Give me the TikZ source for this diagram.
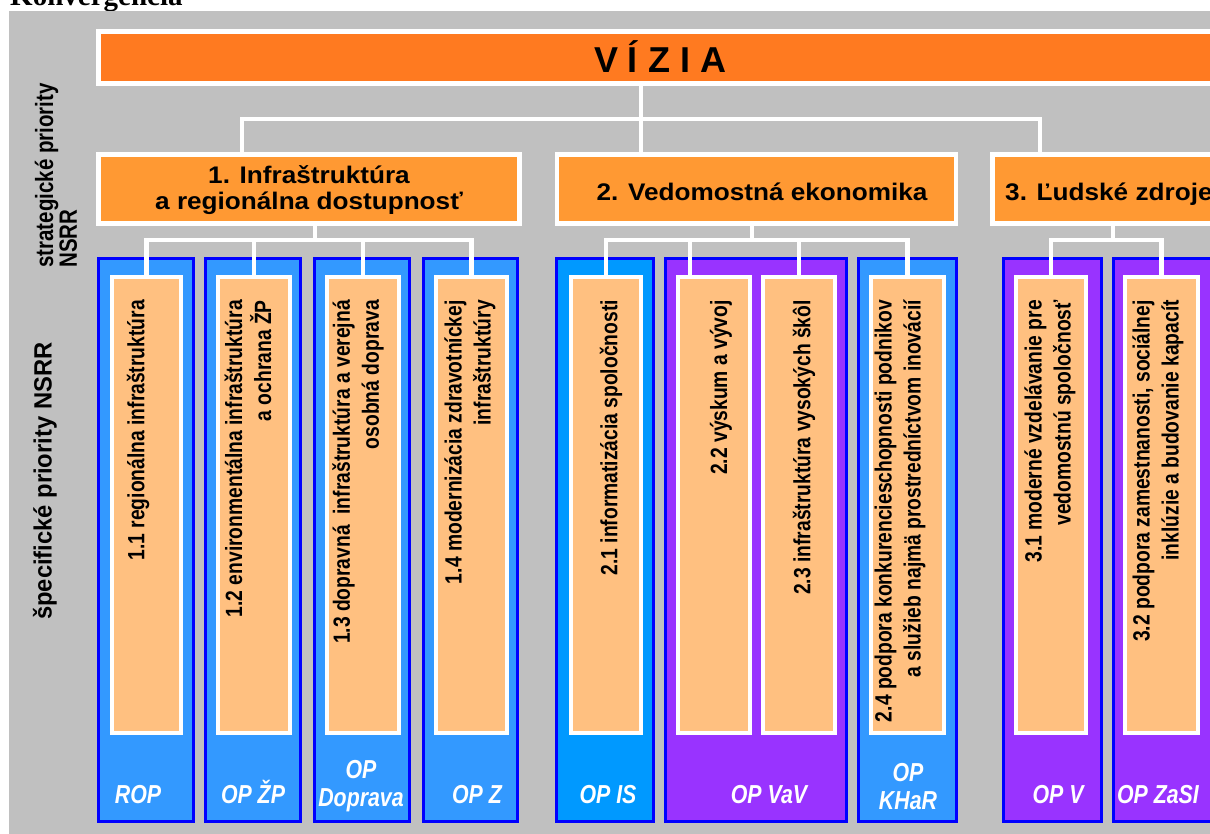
\documentclass[tikz,border=0pt]{standalone}
\usepackage{fontspec}
\setmainfont{Liberation Sans}
\newfontfamily\hdrfont[FakeStretch=1.09]{Liberation Sans}
\newfontfamily\narrowfont[FakeStretch=0.82]{Liberation Sans}
\newfontfamily\sidefont[FakeStretch=0.95]{Liberation Sans}
\newfontfamily\titlefont{Liberation Serif}
\usetikzlibrary{fit}
\definecolor{bggray}{HTML}{C0C0C0}
\definecolor{vizorange}{HTML}{FF7A20}
\definecolor{priorange}{HTML}{FF9933}
\definecolor{peach}{HTML}{FFC080}
\definecolor{colblue}{HTML}{3399FF}
\definecolor{colcyan}{HTML}{0099FF}
\definecolor{colpurple}{HTML}{9933FF}
\definecolor{edgeblue}{HTML}{0000FF}
\tikzset{
  boxbase/.style={rectangle, inner sep=0pt, outer sep=0pt},
  vizbox/.style={boxbase, fill=vizorange, draw=white, line width=5pt},
  pribox/.style={boxbase, fill=priorange, draw=white, line width=4.5pt},
  pritext/.style={inner sep=0pt, align=center, font=\hdrfont\bfseries\fontsize{24}{26.5}\selectfont},
  column/.style={boxbase, draw=edgeblue, line width=3pt},
  specbox/.style={boxbase, fill=peach, draw=white, line width=4pt},
  spectext/.style={rotate=90, anchor=east, inner sep=0pt, align=right, font=\narrowfont\bfseries\fontsize{23.5}{29}\selectfont},
  optext/.style={text=white, inner sep=0pt, align=center, font=\narrowfont\bfseries\itshape\fontsize{26}{28}\selectfont},
  sidetext/.style={rotate=90, anchor=west, inner sep=0pt, align=left, font=\sidefont\bfseries\fontsize{25}{22}\selectfont},
  conn/.style={draw=white, line width=4.5pt},
}
\begin{document}
\begin{tikzpicture}[x=1pt,y=-1pt]
\useasboundingbox (0,0) rectangle (1210,834);
\clip (0,0) rectangle (1210,834);
% title (cut off at top)
\node[anchor=base west, inner sep=0pt, font=\titlefont\bfseries\fontsize{29}{30}\selectfont] (title) at (10,6) {Konvergencia};
% background
\fill[bggray] (9,11) rectangle (1240,850);
% side labels
\node[sidetext, font=\narrowfont\bfseries\fontsize{25}{22}\selectfont] (sidea) at (56,268) {strategické priority\\NSRR};
\node[sidetext] (sideb) at (45,620) {špecifické priority NSRR};
% columns
\node[column, fill=colblue,   fit={(98.5,258.5)(193.5,821.5)}] (c1) {};
\node[column, fill=colblue,   fit={(205.5,258.5)(300.5,821.5)}] (c2) {};
\node[column, fill=colblue,   fit={(314.5,258.5)(409.5,821.5)}] (c3) {};
\node[column, fill=colblue,   fit={(423.5,258.5)(517.5,821.5)}] (c4) {};
\node[column, fill=colcyan,   fit={(556.5,258.5)(653.5,821.5)}] (c5) {};
\node[column, fill=colpurple, fit={(665.5,258.5)(846.5,821.5)}] (c6) {};
\node[column, fill=colblue,   fit={(858.5,258.5)(956.5,821.5)}] (c7) {};
\node[column, fill=colpurple, fit={(1003.5,258.5)(1101.5,821.5)}] (c8) {};
\node[column, fill=colpurple, fit={(1113.5,258.5)(1240,821.5)}] (c9) {};
% specific priority boxes
\node[specbox, fit={(112,277)(181,733)}] (s11) {};
\node[specbox, fit={(218,277)(290,733)}] (s12) {};
\node[specbox, fit={(327,277)(399,733)}] (s13) {};
\node[specbox, fit={(436,277)(507,733)}] (s14) {};
\node[specbox, fit={(571,277)(641,733)}] (s21) {};
\node[specbox, fit={(678,277)(750,733)}] (s22) {};
\node[specbox, fit={(763,277)(835,733)}] (s23) {};
\node[specbox, fit={(871,277)(944,733)}] (s24) {};
\node[specbox, fit={(1016,277)(1086,733)}] (s31) {};
\node[specbox, fit={(1125,277)(1198,733)}] (s32) {};
% texts in specific boxes
\node[spectext] (t11) at (138,300) {1.1 regionálna infraštruktúra};
\node[spectext] (t12) at (248,300) {1.2 environmentálna infraštruktúra\\a ochrana ŽP};
\node[spectext] (t13) at (358,300) {1.3 dopravná\ \ infraštruktúra a verejná\\osobná doprava};
\node[spectext] (t14) at (470,300) {1.4 modernizácia zdravotníckej\\infraštruktúry};
\node[spectext] (t21) at (611,300) {2.1 informatizácia spoločnosti};
\node[spectext] (t22) at (721,300) {2.2 výskum a vývoj};
\node[spectext] (t23) at (804,300) {2.3 infraštruktúra vysokých škôl};
\node[spectext] (t24) at (900,300) {2.4 podpora konkurencieschopnosti podnikov\\a služieb najmä prostredníctvom inovácií};
\node[spectext] (t31) at (1050,300) {3.1 moderné vzdelávanie pre\\vedomostnú spoločnosť};
\node[spectext] (t32) at (1158,300) {3.2 podpora zamestnanosti, sociálnej\\inklúzie a budovanie kapacít};
% operational programme labels
\node[optext, anchor=base] (l1) at (138,803) {ROP};
\node[optext, anchor=base] (l2) at (253,803) {OP ŽP};
\node[optext] (l3) at (361,786) {OP\\Doprava};
\node[optext, anchor=base] (l4) at (477,803) {OP Z};
\node[optext, anchor=base] (l5) at (608,803) {OP IS};
\node[optext, anchor=base] (l6) at (769,803) {OP VaV};
\node[optext] (l7) at (908,787) {OP\\KHaR};
\node[optext, anchor=base] (l8) at (1058,803) {OP V};
\node[optext, anchor=base] (l9) at (1158,803) {OP ZaSI};
% vision
\node[vizbox, fit={(98.5,31.5)(1240,83.5)}] (vizia) {};
\node[anchor=base, inner sep=0pt, font=\bfseries\fontsize{36}{40}\selectfont] (viztext) at (660,73) {V Í Z I A};
% strategic priorities
\node[pribox, fit={(98.5,154.5)(519.5,223.5)}] (p1) {};
\node[pribox, fit={(557,154.5)(956,223.5)}] (p2) {};
\node[pribox, fit={(992.5,154.5)(1240,223.5)}] (p3) {};
\node[pritext] (p1text) at (309,190) {1. Infraštruktúra\\a regionálna dostupnosť};
\node[pritext, anchor=base] (p2text) at (762,201) {2. Vedomostná ekonomika};
\node[pritext, anchor=base west] (p3text) at (1005,201) {3. Ľudské zdroje};
% connectors level 1
\coordinate (b1) at (242,119);
\coordinate (b2) at (641,119);
\coordinate (b3) at (1040,119);
\draw[conn] (b1 |- p1.north) -- (b1) -- (b3) -- (b3 |- p3.north);
\draw[conn] (b2 |- vizia.south) -- (b2 |- p2.north);
% connectors level 2
\coordinate (h1) at (315,240);
\coordinate (h2) at (752,240);
\coordinate (h3) at (1113,240);
\coordinate (d22) at (690,240);
\draw[conn] (h1 |- p1.south) -- (h1);
\draw[conn] (s11.north) |- (h1) -| (s14.north);
\draw[conn] (s12.north) -- (s12.north |- h1);
\draw[conn] (s13.north) -- (s13.north |- h1);
\draw[conn] (h2 |- p2.south) -- (h2);
\draw[conn] (s21.north) |- (h2) -| (s24.north);
\draw[conn] (d22) -- (d22 |- s22.north);
\draw[conn] (s23.north) -- (s23.north |- h2);
\draw[conn] (h3 |- p3.south) -- (h3);
\draw[conn] (s31.north) |- (h3) -| (s32.north);
\end{tikzpicture}
\end{document}
